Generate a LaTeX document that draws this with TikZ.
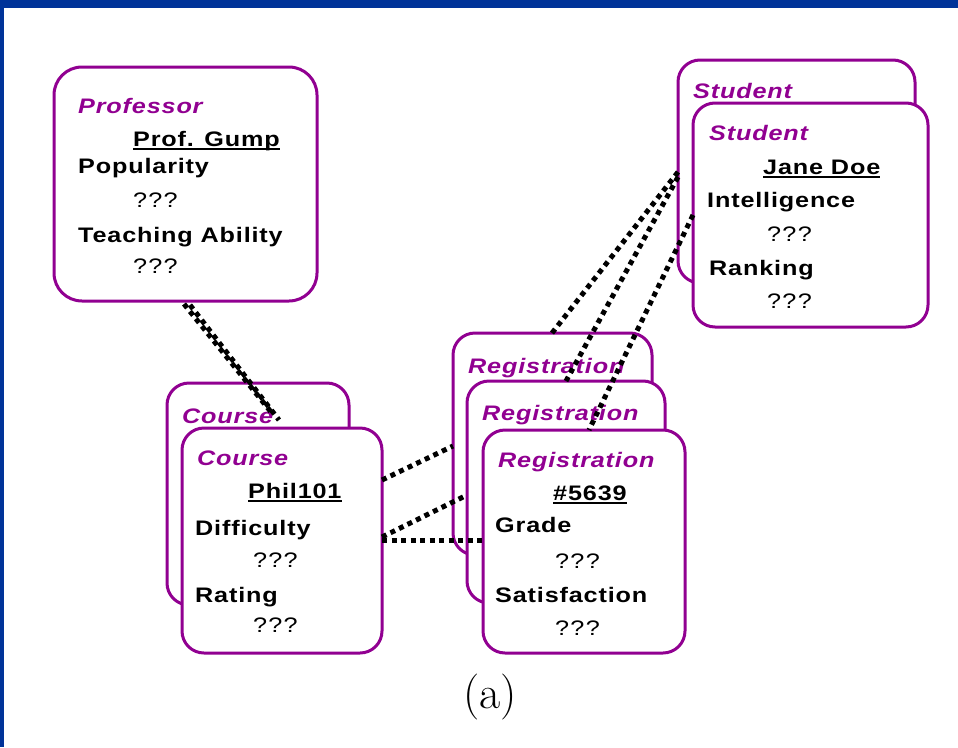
\documentclass[tikz,border=0pt]{standalone}
\usepackage{fontspec}
\usetikzlibrary{calc}
\newfontfamily\labelfont[FakeStretch=1.2,LetterSpace=4]{Liberation Sans Bold}
\newfontfamily\labelfontit[FakeStretch=1.2,LetterSpace=4]{Liberation Sans Bold Italic}
\newfontfamily\valuefont[FakeStretch=1.2,LetterSpace=6]{Liberation Sans}
\definecolor{entpurple}{RGB}{145,0,145}
\definecolor{frameblue}{RGB}{0,51,153}

\begin{document}
\begin{tikzpicture}[x=1pt,y=-1pt,
  ent/.style={draw=entpurple, line width=3pt, fill=white, rounded corners=22pt,
              inner sep=0pt, outer sep=0pt},
  cls/.style={anchor=base west, inner sep=0pt, text=entpurple,
              font=\labelfontit\fontsize{21}{24}\selectfont},
  attr/.style={anchor=base west, inner sep=0pt,
               font=\labelfont\fontsize{21}{24}\selectfont},
  val/.style={anchor=base west, inner sep=0pt,
              font=\valuefont\fontsize{21}{24}\selectfont},
  inst/.style={attr, append after command={
      ([yshift=-2.5pt]\tikzlastnode.base west) edge[draw, line width=2pt]
      ([yshift=-2.5pt]\tikzlastnode.base east)}},
  link/.style={line width=5pt, dash pattern=on 5pt off 4.5pt}]

% page and frame
\useasboundingbox (0,0) rectangle (958,747);
\fill[white] (0,0) rectangle (958,747);
\fill[frameblue] (0,0) rectangle (958,8);
\fill[frameblue] (0,0) rectangle (4,747);

% Professor
\node[ent, rounded corners=28pt, minimum width=263pt, minimum height=234pt] (prof) at (185.5,184) {};
\node[cls]  (profC)  at (78,113) {Professor};
\node[inst] (profN)  at (133,146) {Prof. Gump};
\node[attr] (profA1) at (78,173) {Popularity};
\node[val]  (profV1) at (133,207) {???};
\node[attr] (profA2) at (78,242) {Teaching Ability};
\node[val]  (profV2) at (133,273) {???};

% Students
\node[ent, minimum width=237pt, minimum height=223pt] (stuB) at (796.5,171.5) {};
\node[cls]  (stuBC) at (693,98) {Student};
\node[ent, minimum width=235pt, minimum height=224pt] (stuF) at (810.5,215) {};
\node[cls]  (stuC)  at (709,140) {Student};
\node[inst] (stuN)  at (763,174) {Jane Doe};
\node[attr] (stuA1) at (707,207) {Intelligence};
\node[val]  (stuV1) at (767,241) {???};
\node[attr] (stuA2) at (709,275) {Ranking};
\node[val]  (stuV2) at (767,308) {???};

% Courses
\node[ent, minimum width=182pt, minimum height=222pt] (crsB) at (258,494) {};
\node[cls]  (crsBC) at (182,423) {Course};
\node[ent, minimum width=200pt, minimum height=225pt] (crsF) at (282,540.5) {};
\node[cls]  (crsC)  at (197,465) {Course};
\node[inst] (crsN)  at (248,498) {Phil101};
\node[attr] (crsA1) at (195,535) {Difficulty};
\node[val]  (crsV1) at (253,567) {???};
\node[attr] (crsA2) at (195,602) {Rating};
\node[val]  (crsV2) at (253,632) {???};

% Registrations
\node[ent, minimum width=199pt, minimum height=222pt] (reg1) at (552.5,444) {};
\node[cls]  (reg1C) at (468,373) {Registration};
\node[ent, minimum width=198pt, minimum height=222pt] (reg2) at (566,492) {};
\node[cls]  (reg2C) at (482,420) {Registration};
\node[ent, minimum width=202pt, minimum height=223pt] (reg3) at (584,541.5) {};
\node[cls]  (reg3C) at (498,467) {Registration};
\node[inst] (reg3N) at (553,500) {\#5639};
\node[attr] (regA1) at (495,532) {Grade};
\node[val]  (regV1) at (555,568) {???};
\node[attr] (regA2) at (495,602) {Satisfaction};
\node[val]  (regV2) at (555,635) {???};

% dependency links
\draw[link] ($(prof.south west)+(130,3)$) -- ($(crsB.north west)+(104,29)$);
\draw[link] ($(prof.south west)+(136,4)$) -- ($(crsB.north west)+(112,37)$);
\draw[link] ($(crsF.north east)+(0,52)$)  -- ($(reg1.north west)+(0,113)$);
\draw[link] ($(crsF.north east)+(0,109)$) -- ($(reg2.north west)+(0,114)$);
\draw[link] ($(crsF.north east)+(0,112)$) -- ($(reg3.north west)+(0,110)$);
\draw[link] ($(stuB.north west)+(0,112)$) -- ($(reg1.north west)+(99,0)$);
\draw[link] ($(stuB.north west)+(0,117)$) -- ($(reg2.north west)+(99,0)$);
\draw[link] ($(stuF.north west)+(0,112)$) -- ($(reg3.north west)+(106,0)$);

% caption
\node[anchor=base, inner sep=0pt, font=\fontsize{46}{50}\selectfont] (caption) at (490,708) {(a)};
\end{tikzpicture}
\end{document}
